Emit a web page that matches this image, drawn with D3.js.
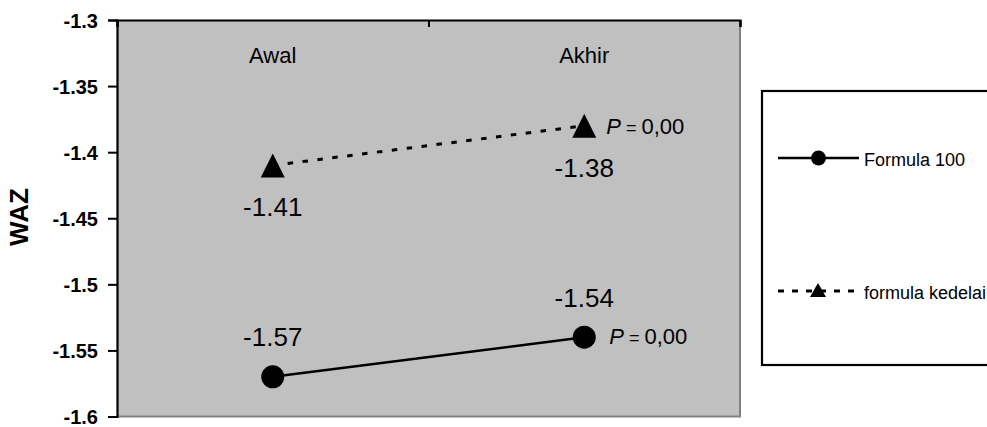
<!DOCTYPE html>
<html>
<head>
<meta charset="utf-8">
<script src="https://cdn.jsdelivr.net/npm/d3@7"></script>
<style>
  html, body { margin: 0; padding: 0; background: #fff; }
  svg { display: block; }
</style>
</head>
<body>
<svg id="chart" width="987" height="427"></svg>
<script>
// Categories (measurement times) and WAZ means per formula group
const categories = ["Awal", "Akhir"];
const formula100 = [-1.57, -1.54];
const formulaKedelai = [-1.41, -1.38];
const pValues = ["0,00", "0,00"];
const yTicks = [-1.3, -1.35, -1.4, -1.45, -1.5, -1.55, -1.6];
const seriesNames = ["Formula 100", "formula kedelai"];

const svg = d3.select("#chart");
const plot = { left: 117, right: 740, top: 20, bottom: 416.5 };
const font = "'Liberation Sans', Arial, sans-serif";

const x = d3.scaleBand().domain(categories).range([plot.left, plot.right]);
const xEdge = d3.scaleLinear().domain([0, categories.length]).range([plot.left, plot.right]);
const y = d3.scaleLinear().domain([-1.6, -1.3]).range([plot.bottom, plot.top]);
const cx = c => x(c) + x.bandwidth() / 2;

// Isosceles triangle marker of base w and height h, centred on its box
const triangle = (w, h) => ({
  draw(ctx) {
    ctx.moveTo(0, -h / 2);
    ctx.lineTo(w / 2, h / 2);
    ctx.lineTo(-w / 2, h / 2);
    ctx.closePath();
  }
});

// plot background
svg.append("rect")
  .attr("x", plot.left).attr("y", plot.top)
  .attr("width", plot.right - plot.left).attr("height", plot.bottom - plot.top)
  .attr("fill", "#c0c0c0");

// right and bottom frame
svg.append("path")
  .attr("d", `M${plot.right},${plot.top}V${plot.bottom}H${plot.left}`)
  .attr("fill", "none").attr("stroke", "#808080").attr("stroke-width", 2);

// left value axis
const yAxis = svg.append("g")
  .attr("transform", `translate(${plot.left},0)`)
  .call(d3.axisLeft(y).tickValues(yTicks).tickSize(9).tickPadding(10).tickFormat(d => String(d)));
yAxis.select(".domain").attr("stroke", "#000").attr("stroke-width", 2.2);
yAxis.selectAll(".tick line").attr("stroke", "#000").attr("stroke-width", 2);
yAxis.selectAll(".tick text")
  .attr("font-family", font)
  .attr("font-weight", "bold").attr("font-size", 20).attr("fill", "#000")
  .attr("dy", "0.36em");

// top category axis with boundary ticks pointing inward
const xAxis = svg.append("g")
  .attr("transform", `translate(0,${plot.top})`)
  .call(d3.axisTop(xEdge).tickValues(d3.range(categories.length + 1)).tickSize(-7).tickFormat(""));
xAxis.select(".domain").attr("stroke", "#000").attr("stroke-width", 2.2);
xAxis.selectAll(".tick line").attr("stroke", "#000").attr("stroke-width", 2);

// category labels
svg.append("g").selectAll("text").data(categories).join("text")
  .attr("x", d => cx(d)).attr("y", 63)
  .attr("text-anchor", "middle")
  .attr("font-family", font)
  .attr("font-size", 22).attr("fill", "#000")
  .text(d => d);

// y axis title
svg.append("text")
  .attr("transform", "translate(28,217) rotate(-90)")
  .attr("text-anchor", "middle")
  .attr("font-family", font)
  .attr("font-weight", "bold").attr("font-size", 26).attr("fill", "#000")
  .text("WAZ");

const line = d3.line().x((d, i) => cx(categories[i])).y(d => y(d));

// formula kedelai: dashed line + triangles
svg.append("path").datum(formulaKedelai)
  .attr("d", line).attr("fill", "none")
  .attr("stroke", "#000").attr("stroke-width", 3).attr("stroke-dasharray", "5.5,9.5");
svg.append("g").selectAll("path").data(formulaKedelai).join("path")
  .attr("transform", (d, i) => `translate(${cx(categories[i])},${y(d)})`)
  .attr("d", d3.symbol().type(triangle(24, 24)))
  .attr("fill", "#000");

// Formula 100: solid line + circles
svg.append("path").datum(formula100)
  .attr("d", line).attr("fill", "none")
  .attr("stroke", "#000").attr("stroke-width", 2.5);
svg.append("g").selectAll("circle").data(formula100).join("circle")
  .attr("cx", (d, i) => cx(categories[i])).attr("cy", d => y(d))
  .attr("r", 11.5).attr("fill", "#000");

// value labels
svg.append("g").selectAll("text").data(formulaKedelai).join("text")
  .attr("x", (d, i) => cx(categories[i])).attr("y", d => y(d) + 51)
  .attr("text-anchor", "middle")
  .attr("font-family", font).attr("font-size", 26).attr("fill", "#000")
  .text(d => d.toFixed(2));
svg.append("g").selectAll("text").data(formula100).join("text")
  .attr("x", (d, i) => cx(categories[i])).attr("y", d => y(d) - 30.5)
  .attr("text-anchor", "middle")
  .attr("font-family", font).attr("font-size", 26).attr("fill", "#000")
  .text(d => d.toFixed(2));

// significance labels at the last point of each series
function pLabel(xPos, yPos, val) {
  const t = svg.append("text")
    .attr("x", xPos).attr("y", yPos)
    .attr("font-family", font).attr("font-size", 22).attr("fill", "#000");
  t.append("tspan").attr("font-style", "italic").text("P");
  t.append("tspan").attr("font-size", 18).text(" = ");
  t.append("tspan").text(val);
}
const last = categories.length - 1;
pLabel(cx(categories[last]) + 22, y(formulaKedelai[last]) + 8, pValues[1]);
pLabel(cx(categories[last]) + 25, y(formula100[last]) + 6.5, pValues[0]);

// legend
const legend = svg.append("g");
legend.append("rect")
  .attr("x", 762).attr("y", 91).attr("width", 240).attr("height", 274)
  .attr("fill", "#fff").attr("stroke", "#000").attr("stroke-width", 2.2);

const ly = [158, 291];
// Formula 100 entry
legend.append("line").attr("x1", 778).attr("x2", 859).attr("y1", ly[0]).attr("y2", ly[0])
  .attr("stroke", "#000").attr("stroke-width", 2.5);
legend.append("circle").attr("cx", 818.5).attr("cy", ly[0]).attr("r", 7.5).attr("fill", "#000");
// formula kedelai entry
legend.append("line").attr("x1", 778).attr("x2", 861).attr("y1", ly[1]).attr("y2", ly[1])
  .attr("stroke", "#000").attr("stroke-width", 3).attr("stroke-dasharray", "6,8");
legend.append("path")
  .attr("transform", `translate(818,${ly[1] - 1})`)
  .attr("d", d3.symbol().type(triangle(16, 14)))
  .attr("fill", "#000");

legend.selectAll("text.lbl").data(seriesNames).join("text")
  .attr("class", "lbl")
  .attr("x", 864).attr("y", (d, i) => ly[i] + 7.5)
  .attr("font-family", font).attr("font-size", 18).attr("fill", "#000")
  .text(d => d);
</script>
</body>
</html>
